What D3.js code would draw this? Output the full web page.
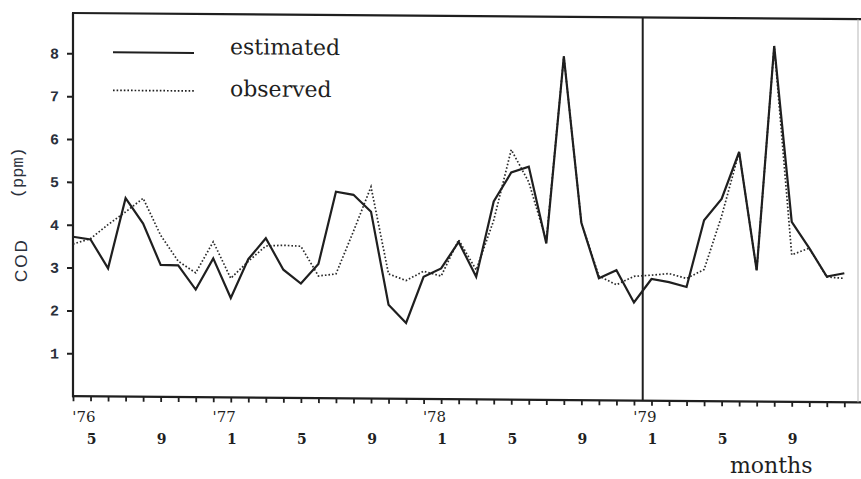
<!DOCTYPE html>
<html>
<head>
<meta charset="utf-8">
<script src="https://cdn.jsdelivr.net/npm/d3@7/dist/d3.min.js"></script>
<style>
  html, body { margin: 0; padding: 0; background: #ffffff; }
  svg { display: block; }
</style>
</head>
<body>
<svg id="chart" width="861" height="479"></svg>
<script>
// Monthly COD record, April 1976 – December 1979
const months = [
  "1976-04","1976-05","1976-06","1976-07","1976-08","1976-09","1976-10","1976-11","1976-12",
  "1977-01","1977-02","1977-03","1977-04","1977-05","1977-06","1977-07","1977-08","1977-09","1977-10","1977-11","1977-12",
  "1978-01","1978-02","1978-03","1978-04","1978-05","1978-06","1978-07","1978-08","1978-09","1978-10","1978-11","1978-12",
  "1979-01","1979-02","1979-03","1979-04","1979-05","1979-06","1979-07","1979-08","1979-09","1979-10","1979-11","1979-12"
];

// COD (ppm) from the model
const estimated = [
  3.72, 3.66, 2.99, 4.63, 4.04, 3.08, 3.07, 2.51, 3.24,
  2.32, 3.23, 3.72, 2.99, 2.67, 3.13, 4.82, 4.75, 4.36, 2.19, 1.77, 2.85,
  3.05, 3.67, 2.86, 4.62, 5.30, 5.44, 3.65, 8.02, 4.14, 2.85, 3.04, 2.29,
  2.84, 2.77, 2.66, 4.22, 4.72, 5.82, 3.06, 8.30, 4.20, 3.59, 2.93, 3.01
];

// COD (ppm) measured
const observed = [
  3.55, 3.68, 4.01, 4.31, 4.63, 3.77, 3.17, 2.90, 3.63,
  2.78, 3.18, 3.54, 3.56, 3.54, 2.85, 2.90, 3.90, 4.94, 2.91, 2.76, 2.98,
  2.87, 3.72, 3.02, 4.18, 5.83, 5.08, 3.71, 8.02, 4.14, 2.90, 2.70, 2.90,
  2.93, 2.97, 2.86, 3.07, 4.32, 5.82, 3.06, 8.30, 3.43, 3.59, 2.92, 2.89
];

const yTicks = [1, 2, 3, 4, 5, 6, 7, 8];
const yearTickMonths = ["1976-05", "1977-01", "1978-01", "1979-01"];
const yearTickText = ["'76", "'77", "'78", "'79"];
const monthTickMonths = ["1976-05","1976-09","1977-01","1977-05","1977-09","1978-01","1978-05","1978-09","1979-01","1979-05","1979-09"];
const monthTickText = ["5","9","1","5","9","1","5","9","1","5","9"];
const forecastStart = "1979-01";
const seriesNames = ["estimated", "observed"];

const plotLeft = 73, plotRight = 858, plotTop = 13, plotBottom = 396.2;
const ink = "#1f1f1f";

const svg = d3.select("#chart");
// the plotting frame leans very slightly downward to the right
const g = svg.append("g")
  .attr("transform", `translate(${plotLeft},0) skewY(0.45) translate(${-plotLeft},0)`);

const idx = m => months.indexOf(m);
const x = d3.scaleLinear().domain([0, months.length - 1]).range([plotLeft, plotLeft + 44 * 17.53]);
const y = d3.scaleLinear().domain([0, 8]).range([plotBottom, plotBottom - 8 * 42.86]);

// frame
g.append("line").attr("x1", plotLeft - 1).attr("x2", 861).attr("y1", plotTop).attr("y2", plotTop)
  .attr("stroke", ink).attr("stroke-width", 2.2);
g.append("line").attr("x1", plotLeft).attr("x2", plotLeft).attr("y1", plotTop).attr("y2", plotBottom + 1)
  .attr("stroke", ink).attr("stroke-width", 2.2);
g.append("line").attr("x1", plotLeft - 1).attr("x2", 861).attr("y1", plotBottom).attr("y2", plotBottom)
  .attr("stroke", ink).attr("stroke-width", 2.2);
g.append("line").attr("x1", plotRight).attr("x2", plotRight).attr("y1", plotTop).attr("y2", plotBottom)
  .attr("stroke", "#b8b8b8").attr("stroke-width", 1);

// axes
const yAxis = g.append("g")
  .attr("transform", `translate(${plotLeft},0)`)
  .call(d3.axisLeft(y).tickValues(yTicks).tickSize(6).tickPadding(8).tickFormat(d3.format("d")));
yAxis.select(".domain").remove();
yAxis.selectAll(".tick line").attr("stroke", ink).attr("stroke-width", 2);
yAxis.selectAll(".tick text")
  .attr("fill", "#2a303b")
  .style("font-family", "'Liberation Mono', monospace")
  .style("font-weight", "bold")
  .style("font-size", "15px");

const xAxis = g.append("g")
  .attr("transform", `translate(0,${plotBottom})`)
  .call(d3.axisBottom(x).tickValues(d3.range(months.length)).tickSize(5).tickFormat(""));
xAxis.select(".domain").remove();
xAxis.selectAll(".tick line").attr("stroke", ink).attr("stroke-width", 1.8);

// year and month labels
svg.selectAll("text.year").data(yearTickMonths).join("text")
  .attr("class", "year")
  .attr("x", d => x(idx(d)) + 5)
  .attr("y", 421.5)
  .attr("text-anchor", "end")
  .attr("fill", ink)
  .style("font-family", "'DejaVu Serif', serif")
  .style("font-size", "15px")
  .text((d, i) => yearTickText[i]);

svg.selectAll("text.month").data(monthTickMonths).join("text")
  .attr("class", "month")
  .attr("x", d => x(idx(d)) + 1)
  .attr("y", 444)
  .attr("text-anchor", "middle")
  .attr("fill", ink)
  .style("font-family", "'DejaVu Serif', serif")
  .style("font-weight", "bold")
  .style("font-size", "14px")
  .text((d, i) => monthTickText[i]);

svg.append("text")
  .attr("x", 730).attr("y", 473)
  .attr("fill", ink)
  .style("font-family", "'DejaVu Serif', serif")
  .style("font-size", "22px")
  .text("months");

// y axis title
svg.append("text")
  .attr("transform", "translate(27,282) rotate(-90)")
  .attr("fill", "#2a303b")
  .call(t => {
    t.append("tspan").text("COD")
      .style("font-family", "'Liberation Sans', sans-serif")
      .style("font-size", "17px")
      .style("letter-spacing", "2px");
    t.append("tspan").attr("dx", 40).attr("dy", -4).text("(ppm)")
      .style("font-family", "'Liberation Mono', monospace")
      .style("font-size", "17px");
  });

// separator at the start of 1979
g.append("line")
  .attr("x1", x(idx(forecastStart) - 0.5)).attr("x2", x(idx(forecastStart) - 0.5))
  .attr("y1", plotTop).attr("y2", plotBottom)
  .attr("stroke", ink).attr("stroke-width", 2);

// series
const line = d3.line().x((d, i) => x(i)).y(d => y(d));
g.append("path").datum(observed)
  .attr("d", line)
  .attr("fill", "none")
  .attr("stroke", "#2a2a2a")
  .attr("stroke-width", 1.7)
  .attr("stroke-dasharray", "1.6 2");
g.append("path").datum(estimated)
  .attr("d", line)
  .attr("fill", "none")
  .attr("stroke", ink)
  .attr("stroke-width", 2.2)
  .attr("stroke-linejoin", "miter");

// legend
const legendY = [52, 90];
const legend = g.selectAll("g.legend").data(seriesNames).join("g")
  .attr("class", "legend")
  .attr("transform", (d, i) => `translate(0,${legendY[i]})`);
legend.append("line")
  .attr("x1", 113).attr("x2", 194).attr("y1", 0).attr("y2", 0)
  .attr("stroke", ink)
  .attr("stroke-width", (d, i) => i === 0 ? 2 : 1.7)
  .attr("stroke-dasharray", (d, i) => i === 0 ? null : "1.6 2");
legend.append("text")
  .attr("x", 230).attr("y", (d, i) => i === 0 ? 1 : 5)
  .attr("fill", ink)
  .style("font-family", "'DejaVu Serif', serif")
  .style("font-size", "22px")
  .text(d => d);
</script>
</body>
</html>
